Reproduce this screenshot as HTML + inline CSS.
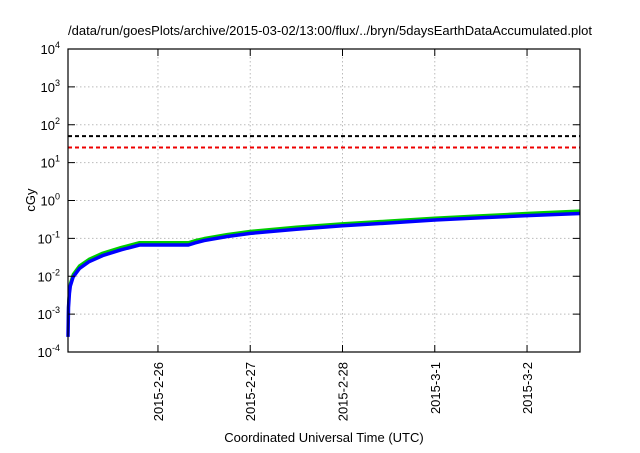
<!DOCTYPE html>
<html><head><meta charset="utf-8"><style>
body{margin:0;background:#fff}
text{font-family:"Liberation Sans",sans-serif;fill:#000}
</style></head><body>
<svg width="640" height="448" xmlns="http://www.w3.org/2000/svg">
<g id="grid"></g>
<g id="series"></g>
<g id="axes"></g>
<text x="330" y="35" font-size="13" text-anchor="middle">/data/run/goesPlots/archive/2015-03-02/13:00/flux/../bryn/5daysEarthDataAccumulated.plot</text>
<text x="324" y="442" font-size="13" text-anchor="middle">Coordinated Universal Time (UTC)</text>
<text x="0" y="0" font-size="13" text-anchor="middle" transform="translate(35,200) rotate(-90)">cGy</text>
</svg>
<script>
const xTickLabels=["2015-2-26","2015-2-27","2015-2-28","2015-3-1","2015-3-2"];
const xTickDays=[0,1,2,3,4];
const yTickExps=[-4,-3,-2,-1,0,1,2,3,4];
const days=[-0.975,-0.97,-0.96,-0.95,-0.92,-0.85,-0.75,-0.6,-0.4,-0.2,0.33,0.4,0.5,0.75,1,1.5,2,2.5,3,3.5,4,4.574];
const blueVals=[0.00025,0.0015,0.0035,0.0055,0.0095,0.016,0.024,0.035,0.05,0.067,0.067,0.076,0.088,0.112,0.135,0.175,0.215,0.255,0.305,0.35,0.4,0.455];
const greenVals=[0.0003,0.0019,0.0042,0.0065,0.0112,0.019,0.028,0.041,0.058,0.078,0.078,0.088,0.1,0.128,0.155,0.2,0.245,0.29,0.345,0.4,0.46,0.53];
const thresholdBlack=50, thresholdRed=25;
const L=68,R=580,T=49,B=352,D0=-0.975,D1=4.574;
const X=d=>L+(d-D0)/(D1-D0)*(R-L);
const Y=v=>B-(Math.log10(v)+4)/8*(B-T);
const NS="http://www.w3.org/2000/svg";
function mk(tag,parent,attrs){const e=document.createElementNS(NS,tag);for(const k in attrs)e.setAttribute(k,attrs[k]);document.getElementById(parent).appendChild(e);return e;}
yTickExps.forEach(p=>{const y=Y(Math.pow(10,p));
 if(p>-4&&p<4){const g=mk('line','grid',{x1:L,x2:R,y1:y,y2:y,stroke:'#bbb','stroke-dasharray':'1.5,2.5','stroke-width':1});
 
 }
 mk('line','axes',{x1:L,x2:L+7,y1:y,y2:y,stroke:'#000'});
 mk('line','axes',{x1:R-7,x2:R,y1:y,y2:y,stroke:'#000'});
 const t=mk('text','axes',{x:L-8,y:y+5,'font-size':13,'text-anchor':'end'});
 t.innerHTML='10<tspan dy="-6" font-size="9">'+p+'</tspan>';
 
 
});
xTickDays.forEach((d,i)=>{const x=X(d);
 const g=mk('line','grid',{x1:x,x2:x,y1:T,y2:B,stroke:'#bbb','stroke-dasharray':'1.5,2.5'});
 
 
 mk('line','axes',{x1:x,x2:x,y1:B-7,y2:B,stroke:'#000'});
 mk('line','axes',{x1:x,x2:x,y1:T,y2:T+7,stroke:'#000'});
 const t=mk('text','axes',{x:0,y:0,'font-size':13,'text-anchor':'end',transform:'translate('+(x+5)+','+(B+10)+') rotate(-90)'});
 t.textContent=xTickLabels[i];
 
 
});
const f=mk('rect','axes',{x:L,y:T,width:R-L,height:B-T,fill:'none',stroke:'#000','stroke-width':1.2});


[[thresholdBlack,'#000','threshold-black'],[thresholdRed,'#e00','threshold-red']].forEach(a=>{
 const l=mk('line','series',{x1:L,x2:R,y1:Y(a[0]),y2:Y(a[0]),stroke:a[1],'stroke-width':2,'stroke-dasharray':'4,3'});
 
 
});
function path(vals,color,w,name){
 const d=vals.map((v,i)=>(i?'L':'M')+X(days[i]).toFixed(1)+','+Y(v).toFixed(1)).join('');
 const p=mk('path','series',{d:d,fill:'none',stroke:color,'stroke-width':w,'stroke-linejoin':'round'});
 
 
}
path(greenVals,'#0c0',3,'green-series');
path(blueVals,'#00f',3.5,'blue-series');
</script>
</body></html>
